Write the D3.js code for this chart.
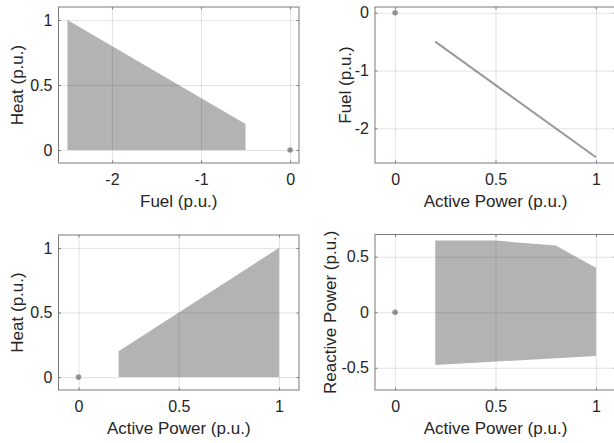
<!DOCTYPE html>
<html>
<head>
<meta charset="utf-8">
<script src="https://cdn.jsdelivr.net/npm/d3@7"></script>
<style>
  html, body { margin: 0; padding: 0; background: #fff; }
  svg { display: block; }
  text { font-family: "Liberation Sans", Arial, Helvetica, sans-serif; fill: #262626; }
</style>
</head>
<body>
<svg id="chart" width="614" height="443"></svg>
<script>
// ---------- DATA ----------
// Panel 1: Heat vs Fuel feasible region
const p1Fuel = [-2.5, -2.5, -0.5, -0.5];
const p1Heat = [0, 1, 0.2, 0];
// Panel 2: Fuel vs Active Power line
const p2Power = [0.2, 1];
const p2Fuel = [-0.5, -2.5];
// Panel 3: Heat vs Active Power region
const p3Power = [0.2, 0.2, 1, 1];
const p3Heat = [0, 0.2, 1, 0];
// Panel 4: Reactive vs Active Power region
const p4Power = [0.2, 0.5, 0.8, 1, 1, 0.2];
const p4Reactive = [0.645, 0.645, 0.6, 0.4, -0.395, -0.475];
// Origin point shown in every panel
const originX = [0];
const originY = [0];

// Tick values and labels
const ticksFuelX = [-2, -1, 0];
const ticksFuelXLabels = ["-2", "-1", "0"];
const ticksHeat = [0, 0.5, 1];
const ticksHeatLabels = ["0", "0.5", "1"];
const ticksPower = [0, 0.5, 1];
const ticksPowerLabels = ["0", "0.5", "1"];
const ticksFuelY = [-2, -1, 0];
const ticksFuelYLabels = ["-2", "-1", "0"];
const ticksReactive = [-0.5, 0, 0.5];
const ticksReactiveLabels = ["-0.5", "0", "0.5"];

// ---------- LAYOUT ----------
const svg = d3.select("#chart");
const fillColor = "#b3b3b3";
const markColor = "#999999";
const axisColor = "#7a7a7a";

const panels = [
  { left: 58.5, right: 299, top: 7, bottom: 163,
    xDomain: [-2.6, 0.1], yDomain: [-0.1, 1.1],
    xTicks: ticksFuelX, xLabels: ticksFuelXLabels,
    yTicks: ticksHeat, yLabels: ticksHeatLabels,
    xTitle: "Fuel (p.u.)", yTitle: "Heat (p.u.)", yTitleOff: 35.5,
    type: "area", xs: p1Fuel, ys: p1Heat },
  { left: 375, right: 616, top: 7, bottom: 163,
    xDomain: [-0.1, 1.1], yDomain: [-2.6, 0.1],
    xTicks: ticksPower, xLabels: ticksPowerLabels,
    yTicks: ticksFuelY, yLabels: ticksFuelYLabels,
    xTitle: "Active Power (p.u.)", yTitle: "Fuel (p.u.)", yTitleOff: 24,
    type: "line", xs: p2Power, ys: p2Fuel },
  { left: 58.5, right: 299, top: 235, bottom: 390,
    xDomain: [-0.1, 1.1], yDomain: [-0.1, 1.1],
    xTicks: ticksPower, xLabels: ticksPowerLabels,
    yTicks: ticksHeat, yLabels: ticksHeatLabels,
    xTitle: "Active Power (p.u.)", yTitle: "Heat (p.u.)", yTitleOff: 35.5,
    type: "area", xs: p3Power, ys: p3Heat },
  { left: 375, right: 616, top: 234.5, bottom: 390,
    xDomain: [-0.1, 1.1], yDomain: [-0.7, 0.7],
    xTicks: ticksPower, xLabels: ticksPowerLabels,
    yTicks: ticksReactive, yLabels: ticksReactiveLabels,
    xTitle: "Active Power (p.u.)", yTitle: "Reactive Power (p.u.)", yTitleOff: 39.5,
    type: "area", xs: p4Power, ys: p4Reactive }
];

panels.forEach(p => {
  const w = p.right - p.left, h = p.bottom - p.top;
  const x = d3.scaleLinear().domain(p.xDomain).range([0, w]);
  const y = d3.scaleLinear().domain(p.yDomain).range([h, 0]);
  const g = svg.append("g").attr("transform", `translate(${p.left},${p.top})`);

  // data
  const pts = p.xs.map((v, i) => [x(v), y(p.ys[i])]);
  if (p.type === "area") {
    g.append("path")
      .attr("d", d3.line()(pts) + "Z")
      .attr("fill", fillColor)
      .attr("stroke", "none");
  } else {
    g.append("path")
      .attr("d", d3.line()(pts))
      .attr("fill", "none")
      .attr("stroke", markColor)
      .attr("stroke-width", 2);
  }
  g.selectAll("circle.origin").data(originX).join("circle")
    .attr("class", "origin")
    .attr("cx", (d) => x(d))
    .attr("cy", (d, i) => y(originY[i]))
    .attr("r", 2.8)
    .attr("fill", markColor);

  // grid (on top, translucent)
  const gridX = g.append("g").attr("transform", `translate(0,${h})`)
    .call(d3.axisBottom(x).tickValues(p.xTicks).tickSize(-h).tickFormat(""));
  const gridY = g.append("g")
    .call(d3.axisLeft(y).tickValues(p.yTicks).tickSize(-w).tickFormat(""));
  [gridX, gridY].forEach(gr => {
    gr.select(".domain").remove();
    gr.selectAll("line").attr("stroke", "#262626").attr("stroke-opacity", 0.13).attr("stroke-width", 1);
  });

  // axes with inward ticks on all sides
  const tl = 2.5;
  const ax = [
    g.append("g").attr("transform", `translate(0,${h})`)
      .call(d3.axisBottom(x).tickValues(p.xTicks).tickSizeInner(-tl).tickSizeOuter(0)
        .tickPadding(8).tickFormat((d, i) => p.xLabels[i])),
    g.append("g")
      .call(d3.axisTop(x).tickValues(p.xTicks).tickSizeInner(-tl).tickSizeOuter(0).tickFormat("")),
    g.append("g")
      .call(d3.axisLeft(y).tickValues(p.yTicks).tickSizeInner(-tl).tickSizeOuter(0)
        .tickPadding(6).tickFormat((d, i) => p.yLabels[i])),
    g.append("g").attr("transform", `translate(${w},0)`)
      .call(d3.axisRight(y).tickValues(p.yTicks).tickSizeInner(-tl).tickSizeOuter(0).tickFormat(""))
  ];
  ax.forEach(a => {
    a.select(".domain").remove();
    a.selectAll("line").attr("stroke", axisColor);
    a.selectAll("text").attr("font-size", 16).attr("fill", "#262626")
      .style("font-family", '"Liberation Sans", Arial, sans-serif');
  });
  // x tick labels baseline
  ax[0].selectAll("text").attr("dy", null).attr("y", 22);

  // box
  g.append("rect")
    .attr("x", 0).attr("y", 0).attr("width", w).attr("height", h)
    .attr("fill", "none").attr("stroke", axisColor).attr("stroke-width", 1);

  // titles
  g.append("text")
    .attr("x", w / 2).attr("y", h + 44)
    .attr("text-anchor", "middle").attr("font-size", 17)
    .text(p.xTitle);
  g.append("text")
    .attr("transform", `translate(${-p.yTitleOff},${h / 2}) rotate(-90)`)
    .attr("text-anchor", "middle").attr("font-size", 17)
    .text(p.yTitle);
});
</script>
</body>
</html>
